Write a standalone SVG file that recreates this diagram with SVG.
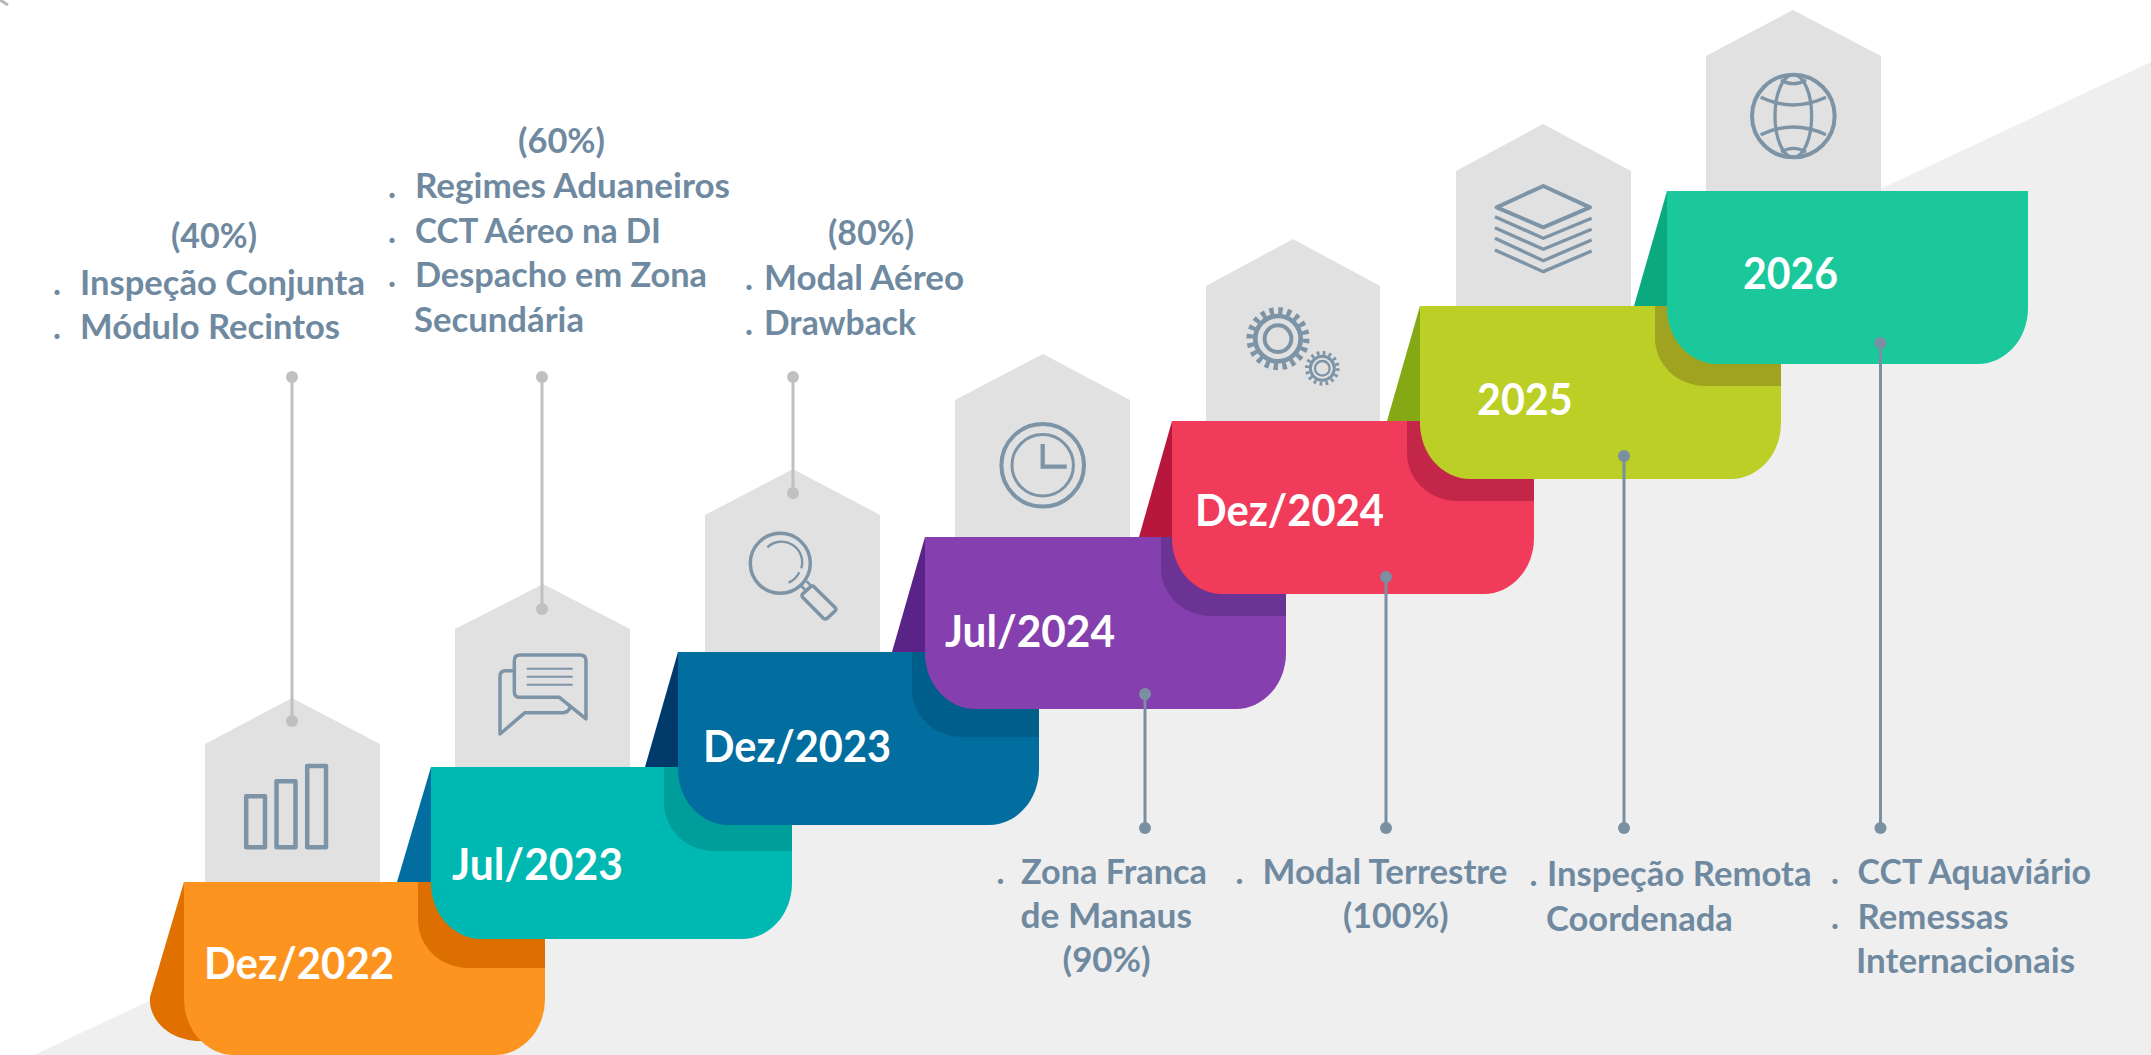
<svg xmlns="http://www.w3.org/2000/svg" width="2151" height="1055" viewBox="0 0 2151 1055">
<style>
.house{fill:#e1e1e1}
.ic{fill:none;stroke:#7d94a7;stroke-linejoin:round;stroke-linecap:butt}
.lab{font-family:Lato,"Liberation Sans",sans-serif;font-weight:700;font-size:44px;fill:#fff}
.note{font-family:Lato,"Liberation Sans",sans-serif;font-weight:700;font-size:33.5px;fill:#6f8aa0}
.c1{stroke:#c0c0c0;stroke-width:3;fill:none}
.c2{stroke:#7a8fa0;stroke-width:3;fill:none}
.d1{fill:#c0c0c0}
.d2{fill:#7a8fa0}
</style>
<rect width="2151" height="1055" fill="#fff"/>
<path d="M0 0L8 5" stroke="#8a8a8a" stroke-width="3" opacity=".6"/>
<polygon id="backdrop" points="34,1055 2151,62 2151,1055" fill="#efefef"/>

<g id="step-dez-2022">
<polygon class="house" points="205,882 205,744 292,698 380,744 380,882"/>
<g class="ic" stroke-width="4.5"><rect x="246.2" y="796.2" width="18.8" height="51"/><rect x="276.5" y="781.2" width="19" height="66"/><rect x="307.2" y="766" width="18.8" height="81.2"/></g>
<path d="M184 882L150 997C148 1020 170 1041 200 1041L300 1041L300 882Z" fill="#e07000"/>
<path d="M184 882H545V999A50 56 0 0 1 495 1055H234A50 56 0 0 1 184 999Z" fill="#fd9420"/>
<path d="M418 882H545V968H468A50 48 0 0 1 418 920Z" fill="#dd6f00"/>
<text class="lab" x="204" y="979" textLength="190" lengthAdjust="spacingAndGlyphs">Dez/2022</text>
</g>

<g id="step-jul-2023">
<polygon class="house" points="455,767 455,629 543,584 630,629 630,767"/>
<g class="ic" transform="translate(460 520) scale(.3333)" stroke-width="10.5">
<path d="M378 597V422Q378 405 360 405H180Q163 405 163 422V515Q163 532 180 532H298Z"/>
<path d="M163 452H137Q120 452 120 469V642L195 578H308Q325 578 332 560"/>
<path d="M200 446H338M200 470H338M200 494H338" stroke-width="6"/>
</g>
<polygon points="431,767 397,882 431,882" fill="#016e9f"/>
<path d="M431 767H792V883A50 56 0 0 1 742 939H481A50 56 0 0 1 431 883Z" fill="#00b8b2"/>
<path d="M664 767H792V851H714A50 48 0 0 1 664 803Z" fill="#009e9a"/>
<text class="lab" x="452" y="880" textLength="171" lengthAdjust="spacingAndGlyphs">Jul/2023</text>
</g>

<g id="step-dez-2023">
<polygon class="house" points="705,652 705,515 793,469 880,515 880,652"/>
<g class="ic" transform="translate(460 520) scale(.3333)" stroke-width="10.5">
<circle cx="961" cy="130" r="90"/>
<path d="M922 82A62 62 0 0 1 1024 145" stroke-width="7"/>
<path d="M1018 157A62 62 0 0 1 986 188" stroke-width="7"/>
<path d="M1024 198L1040 214M1040 184L1056 200" stroke-width="8"/>
<path d="M1062 200L1126 263Q1130 268 1126 272L1102 295Q1096 299 1090 295L1028 232Q1024 226 1028 222L1052 200Q1058 196 1062 200Z"/>
</g>
<polygon points="678,652 645,767 678,767" fill="#003a6b"/>
<path d="M678 652H1039V769A50 56 0 0 1 989 825H728A50 56 0 0 1 678 769Z" fill="#016e9f"/>
<path d="M912 652H1039V737H962A50 48 0 0 1 912 689Z" fill="#005e8a"/>
<text class="lab" x="703" y="762" textLength="188" lengthAdjust="spacingAndGlyphs">Dez/2023</text>
</g>

<g id="step-jul-2024">
<polygon class="house" points="955,537 955,400 1043,354 1130,400 1130,537"/>
<g class="ic">
<circle cx="1042.7" cy="465.3" r="41.3" stroke-width="4"/>
<circle cx="1042.7" cy="465.3" r="30.7" stroke-width="3"/>
<path d="M1042.7 444V466.7H1066.7" stroke-width="4.3" stroke-linejoin="miter"/>
</g>
<polygon points="925,537 892,652 925,652" fill="#5a2387"/>
<path d="M925 537H1286V653A50 56 0 0 1 1236 709H975A50 56 0 0 1 925 653Z" fill="#853fae"/>
<path d="M1161 537H1286V616H1211A50 48 0 0 1 1161 568Z" fill="#6b3494"/>
<text class="lab" x="945" y="647" textLength="170" lengthAdjust="spacingAndGlyphs">Jul/2024</text>
</g>

<g id="step-dez-2024">
<polygon class="house" points="1206,421 1206,286 1293,239 1380,286 1380,421"/>
<g class="ic" transform="translate(1200 170) scale(.3333)">
<circle cx="234" cy="506" r="84" stroke-width="21" stroke-dasharray="13 13.4"/>
<circle cx="234" cy="506" r="68" stroke-width="14"/>
<circle cx="234" cy="506" r="40" stroke-width="12"/>
<circle cx="367" cy="595" r="46" stroke-width="12" stroke-dasharray="8 10.06"/>
<circle cx="367" cy="595" r="36" stroke-width="9"/>
<circle cx="367" cy="595" r="22" stroke-width="7"/>
</g>
<polygon points="1172,421 1139,537 1172,537" fill="#b8173d"/>
<path d="M1172 421H1534V538A50 56 0 0 1 1484 594H1222A50 56 0 0 1 1172 538Z" fill="#f03c5a"/>
<path d="M1407 421H1534V501H1457A50 48 0 0 1 1407 453Z" fill="#c4264a"/>
<text class="lab" x="1195" y="526" textLength="189" lengthAdjust="spacingAndGlyphs">Dez/2024</text>
</g>

<g id="step-2025">
<polygon class="house" points="1456,306 1456,171 1543,124 1631,171 1631,306"/>
<g class="ic" transform="translate(1200 170) scale(.3333)">
<path d="M1030 48L1170 112L1030 172L890 112Z" stroke-width="12"/>
<path d="M885 140L1030 205L1175 145M885 173L1030 238L1175 178M885 205L1030 272L1175 210M885 240L1030 305L1175 243" stroke-width="10"/>
</g>
<polygon points="1420,306 1387,421 1420,421" fill="#84a914"/>
<path d="M1420 306H1781V423A50 56 0 0 1 1731 479H1470A50 56 0 0 1 1420 423Z" fill="#bccf26"/>
<path d="M1655 306H1781V386H1705A50 48 0 0 1 1655 338Z" fill="#a0a31f"/>
<text class="lab" x="1477" y="415" textLength="95.6" lengthAdjust="spacingAndGlyphs">2025</text>
</g>

<g id="step-2026">
<polygon class="house" points="1706,191 1706,56 1793,10 1881,56 1881,191"/>
<g class="ic" transform="translate(1700 0) scale(.3333)" stroke-width="10">
<circle cx="280" cy="348" r="124" stroke-width="12"/>
<ellipse cx="280" cy="348" rx="55" ry="124"/>
<path d="M182 292Q280 338 378 292M182 404Q280 358 378 404M243 240Q280 262 318 240M243 456Q280 434 318 456"/>
</g>
<polygon points="1667,191 1634,306 1667,306" fill="#0ba980"/>
<path d="M1667 191H2028V308A50 56 0 0 1 1978 364H1717A50 56 0 0 1 1667 308Z" fill="#1ac89c"/>
<text class="lab" x="1743" y="288.7" textLength="95" lengthAdjust="spacingAndGlyphs">2026</text>
</g>

<g id="connectors">
<path class="c1" d="M292 377V721"/><circle class="d1" cx="292" cy="377" r="6"/><circle class="d1" cx="292" cy="721" r="6"/>
<path class="c1" d="M542 377V609"/><circle class="d1" cx="542" cy="377" r="6"/><circle class="d1" cx="542" cy="609" r="6"/>
<path class="c1" d="M793 377V493"/><circle class="d1" cx="793" cy="377" r="6"/><circle class="d1" cx="793" cy="493" r="6"/>
<path class="c2" d="M1145 694V828"/><circle class="d2" cx="1145" cy="694" r="6"/><circle class="d2" cx="1145" cy="828" r="6"/>
<path class="c2" d="M1386 577V828"/><circle class="d2" cx="1386" cy="577" r="6"/><circle class="d2" cx="1386" cy="828" r="6"/>
<path class="c2" d="M1624 456V828"/><circle class="d2" cx="1624" cy="456" r="6"/><circle class="d2" cx="1624" cy="828" r="6"/>
<path class="c2" d="M1880.500 343V828"/><circle class="d2" cx="1880.500" cy="343" r="6"/><circle class="d2" cx="1880.500" cy="828" r="6"/>
</g>

<g id="note-dez-2022" class="note">
<text x="171" y="248" textLength="86" lengthAdjust="spacingAndGlyphs">(40%)</text>
<text y="295"><tspan x="53">.</tspan><tspan x="80" textLength="285" lengthAdjust="spacingAndGlyphs">Inspeção Conjunta</tspan></text>
<text y="339"><tspan x="53">.</tspan><tspan x="80" textLength="260" lengthAdjust="spacingAndGlyphs">Módulo Recintos</tspan></text>
</g>
<g id="note-jul-2023" class="note">
<text x="518" y="153" textLength="87" lengthAdjust="spacingAndGlyphs">(60%)</text>
<text y="198"><tspan x="388">.</tspan><tspan x="415" textLength="315" lengthAdjust="spacingAndGlyphs">Regimes Aduaneiros</tspan></text>
<text y="243"><tspan x="388">.</tspan><tspan x="415" textLength="246" lengthAdjust="spacingAndGlyphs">CCT Aéreo na DI</tspan></text>
<text y="287"><tspan x="388">.</tspan><tspan x="415" textLength="292" lengthAdjust="spacingAndGlyphs">Despacho em Zona</tspan></text>
<text x="414" y="332" textLength="170" lengthAdjust="spacingAndGlyphs">Secundária</text>
</g>
<g id="note-dez-2023" class="note">
<text x="828" y="245" textLength="86" lengthAdjust="spacingAndGlyphs">(80%)</text>
<text y="290"><tspan x="745">.</tspan><tspan x="764" textLength="200" lengthAdjust="spacingAndGlyphs">Modal Aéreo</tspan></text>
<text y="335"><tspan x="745">.</tspan><tspan x="764" textLength="152" lengthAdjust="spacingAndGlyphs">Drawback</tspan></text>
</g>
<g id="note-jul-2024" class="note">
<text y="884"><tspan x="996.500">.</tspan><tspan x="1021" textLength="186" lengthAdjust="spacingAndGlyphs">Zona Franca</tspan></text>
<text x="1020.500" y="928" textLength="171.500" lengthAdjust="spacingAndGlyphs">de Manaus</text>
<text x="1062.600" y="971.500" textLength="88" lengthAdjust="spacingAndGlyphs">(90%)</text>
</g>
<g id="note-dez-2024" class="note">
<text y="884"><tspan x="1235.500">.</tspan><tspan x="1262.500" textLength="245" lengthAdjust="spacingAndGlyphs">Modal Terrestre</tspan></text>
<text x="1343" y="928" textLength="105.600" lengthAdjust="spacingAndGlyphs">(100%)</text>
</g>
<g id="note-2025" class="note">
<text y="886"><tspan x="1529.500">.</tspan><tspan x="1547" textLength="264.600" lengthAdjust="spacingAndGlyphs">Inspeção Remota</tspan></text>
<text x="1546" y="930.600" textLength="186.800" lengthAdjust="spacingAndGlyphs">Coordenada</text>
</g>
<g id="note-2026" class="note">
<text y="884"><tspan x="1831">.</tspan><tspan x="1857.600" textLength="233.400" lengthAdjust="spacingAndGlyphs">CCT Aquaviário</tspan></text>
<text y="928.500"><tspan x="1831">.</tspan><tspan x="1857.600" textLength="151" lengthAdjust="spacingAndGlyphs">Remessas</tspan></text>
<text x="1856" y="972.600" textLength="219" lengthAdjust="spacingAndGlyphs">Internacionais</text>
</g>
</svg>
